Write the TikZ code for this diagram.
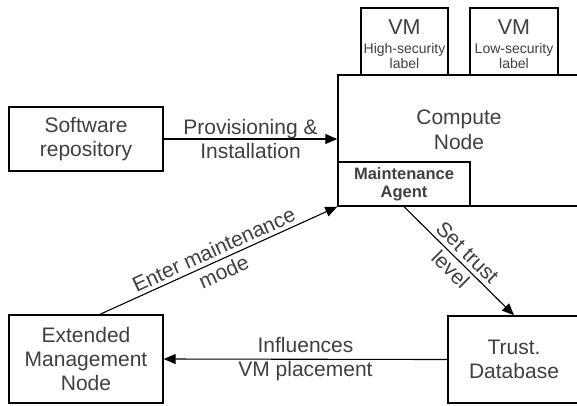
\documentclass[tikz,border=0pt]{standalone}
\usepackage{fontspec}
\setmainfont{Liberation Sans}
\usepackage{tikz}
\usetikzlibrary{shapes,arrows.meta,positioning}

\definecolor{txtgray}{HTML}{404040}

\tikzset{
	box/.style={draw=black, line width=1.4pt, rectangle, inner sep=0pt, align=center,
		text=txtgray, font=\fontsize{21}{24}\selectfont},
	link/.style={draw=black, line width=1.1pt, -{Triangle[length=12pt,width=10pt]}},
	linklabel/.style={midway, align=center, text=txtgray, font=\fontsize{21}{24}\selectfont, inner sep=0pt}
}

\begin{document}
\begin{tikzpicture}[x=1pt, y=-1pt]
	% Page frame
	\clip (0,0) rectangle (577,405);
	\fill[white] (0,0) rectangle (577,405);

	% Boxes
	\node[box, minimum width=154pt, minimum height=64pt] (soft) at (86,139) {Software\\repository};
	\node[box, minimum width=242pt, minimum height=131pt] (compute) at (459,140.5) {};
	\node[text=txtgray, align=center, font=\fontsize{21}{25}\selectfont] (computetext) at (459,130) {Compute\\Node};
	\node[box, minimum width=87pt, minimum height=67pt] (vmhigh) at (404.5,41.5) {};
	\node[box, minimum width=88pt, minimum height=67pt] (vmlow) at (514,41.5) {};
	\node[box, minimum width=132pt, minimum height=44pt, font=\bfseries\fontsize{16.5}{18}\selectfont] (agent) at (404,184) {Maintenance\\Agent};
	\node[box, minimum width=154pt, minimum height=88pt] (ext) at (86,359) {Extended\\Management\\Node};
	\node[box, minimum width=132pt, minimum height=87pt] (trust) at (514,359.5) {Trust.\\Database};

	% VM texts
	\foreach \vm/\lvl in {vmhigh/High, vmlow/Low} {
		\node[text=txtgray, font=\fontsize{21.5}{22}\selectfont] at ([yshift=14.5pt]\vm.center) {VM};
		\node[text=txtgray, align=center, font=\fontsize{14}{15}\selectfont] at ([yshift=-14pt]\vm.center) {\lvl-security\\label};
	}

	% Connectors
	\draw[link] (soft.east) -- (compute.west |- soft.east)
		node[linklabel] {Provisioning \&\\Installation};
	\draw[link] ([xshift=14pt]ext.north) -- (compute.south west)
		node[linklabel, sloped] {Enter maintenance\\mode};
	\draw[link] (agent.south) -- (trust.north)
		node[linklabel, sloped] {Set trust\\level};
	\draw[link] (trust.west) -- (ext.east)
		node[linklabel] {Influences\\VM placement};
\end{tikzpicture}
\end{document}
